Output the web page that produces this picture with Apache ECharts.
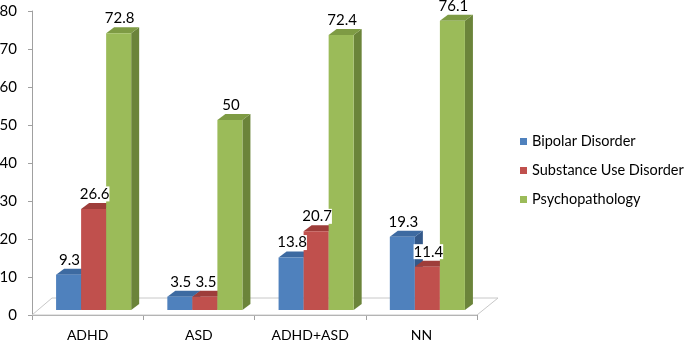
<!DOCTYPE html>
<html>
<head>
<meta charset="utf-8">
<script src="https://cdn.jsdelivr.net/npm/echarts@6/dist/echarts.min.js"></script>
<style>
  html, body { margin: 0; padding: 0; background: #fff; }
  #chart { width: 685px; height: 341px; }
</style>
</head>
<body>
<div id="chart"></div>
<script>
const categories = ['ADHD', 'ASD', 'ADHD+ASD', 'NN']
const bipolar = [9.3, 3.5, 13.8, 19.3]
const substance = [26.6, 3.5, 20.7, 11.4]
const psycho = [72.8, 50, 72.4, 76.1]
const yTicks = [0, 10, 20, 30, 40, 50, 60, 70, 80]

const FONT = 'Lato, "Open Sans", sans-serif'
// 3d look: bars sit a bit behind the front edge of the floor
const DX = 6, DY = -5
const DEPTH_X = 8, DEPTH_Y = 6

function makeBar(slot, front, topc, side) {
  return function (params, api) {
    const idx = api.value(0)
    const v = api.value(1)
    const base = api.coord([idx, 0])
    const top = api.coord([idx, v])
    const band = api.size([1, 0])[0]
    const bw = band * 0.225
    const x0 = base[0] - 1.5 * bw + slot * bw + DX
    const yb = base[1] + DY
    const yt = top[1] + DY
    return {
      type: 'group',
      children: [
        {
          type: 'polygon',
          shape: { points: [[x0 + bw, yt], [x0 + bw + DEPTH_X, yt - DEPTH_Y], [x0 + bw + DEPTH_X, yb - DEPTH_Y], [x0 + bw, yb]] },
          style: { fill: side }
        },
        {
          type: 'polygon',
          shape: { points: [[x0, yt], [x0 + DEPTH_X, yt - DEPTH_Y], [x0 + bw + DEPTH_X, yt - DEPTH_Y], [x0 + bw, yt]] },
          style: { fill: topc }
        },
        {
          type: 'rect',
          shape: { x: x0, y: yt, width: bw, height: yb - yt },
          style: { fill: front }
        },
        {
          type: 'text',
          z2: 100,
          x: x0 + bw / 2 + 1,
          y: yt - 15,
          style: {
            text: String(v),
            align: 'center',
            verticalAlign: 'middle',
            fill: '#000',
            font: '15px ' + FONT,
            backgroundColor: '#fff'
          }
        }
      ]
    }
  }
}

function floorItem(params, api) {
  const cs = params.coordSys
  const l = cs.x, r = cs.x + cs.width, b = cs.y + cs.height
  return {
    type: 'polygon',
    shape: { points: [[l, b], [r, b], [r + 21, b - 17], [l + 20, b - 17]] },
    style: { fill: '#fff', stroke: '#c8c8c8', lineWidth: 1 }
  }
}

const toData = arr => arr.map((v, i) => [i, v])

const chart = echarts.init(document.getElementById('chart'))
chart.setOption({
  backgroundColor: '#fff',
  animation: false,
  grid: { left: 32, top: 11, right: 208, bottom: 26, containLabel: false, outerBoundsMode: 'none' },
  legend: {
    data: ['Bipolar Disorder', 'Substance Use Disorder', 'Psychopathology'],
    orient: 'vertical',
    left: 515,
    top: 128,
    icon: 'rect',
    itemWidth: 7,
    itemHeight: 7,
    itemGap: 12,
    textStyle: { fontFamily: FONT, fontSize: 14.5, color: '#000', lineHeight: 17 }
  },
  xAxis: {
    type: 'category',
    data: categories,
    axisLine: { lineStyle: { color: '#a0a0a0' } },
    axisTick: { show: true, length: 5, lineStyle: { color: '#a0a0a0' } },
    axisLabel: { fontFamily: FONT, fontSize: 14, color: '#000', margin: 13 }
  },
  yAxis: {
    type: 'value',
    min: 0,
    max: 80,
    interval: 10,
    axisLine: { show: true, lineStyle: { color: '#a0a0a0' } },
    axisTick: { show: true, length: 4, lineStyle: { color: '#a0a0a0' } },
    axisLabel: { fontFamily: FONT, fontSize: 15, color: '#000', margin: 15,
      formatter: v => yTicks.includes(v) ? String(v) : '' },
    splitLine: { show: false }
  },
  series: [
    { type: 'custom', name: 'floor', silent: true, z: 1, renderItem: floorItem, data: [[0, 0]] },
    { type: 'custom', name: 'Bipolar Disorder', itemStyle: { color: '#4F81BD' },
      renderItem: makeBar(0, '#4F81BD', '#3D6AA1', '#34598A'), data: toData(bipolar), encode: { x: 0, y: 1 } },
    { type: 'custom', name: 'Substance Use Disorder', itemStyle: { color: '#C0504D' },
      renderItem: makeBar(1, '#C0504D', '#9E3D3A', '#8C3532'), data: toData(substance), encode: { x: 0, y: 1 } },
    { type: 'custom', name: 'Psychopathology', itemStyle: { color: '#9BBB59' },
      renderItem: makeBar(2, '#9BBB59', '#7E9B44', '#6B843A'), data: toData(psycho), encode: { x: 0, y: 1 } }
  ]
})
</script>
</body>
</html>
